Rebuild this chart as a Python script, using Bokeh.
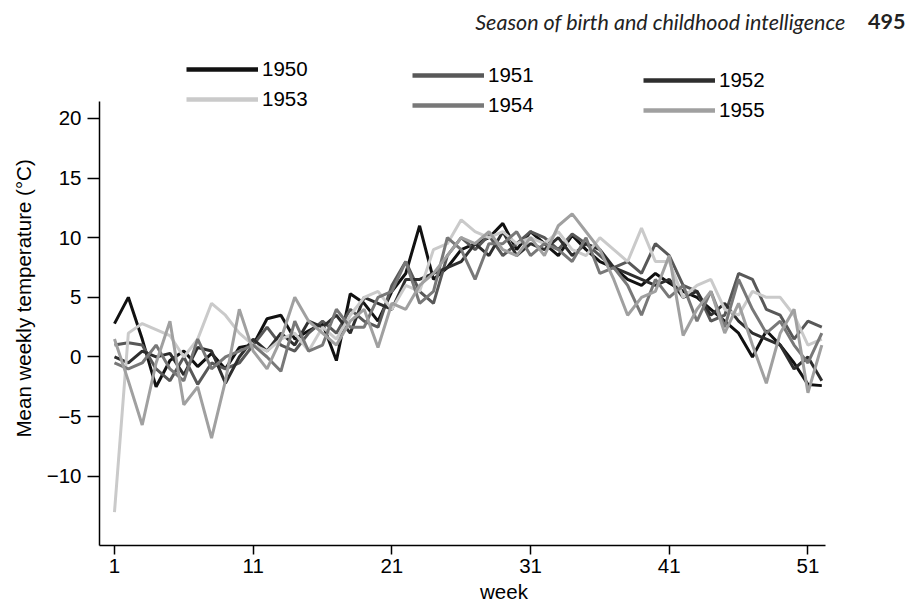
from bokeh.plotting import figure
from bokeh.models import Range1d, FixedTicker, Legend, LegendItem, Label, Title
from bokeh.embed import file_html
from bokeh.resources import INLINE

weeks = list(range(1, 53))
years = ["1950", "1951", "1952", "1953", "1954", "1955"]

t1950 = [2.8, 5.0, 1.5, -2.5, -0.3, 0.5, -0.8, 0.3, -1.0, 0.8, 1.0, 3.2, 3.5, 1.5, 2.2, 2.8, -0.3, 5.3, 4.5, 3.0,
         5.5, 7.0, 11.0, 6.5, 7.5, 9.0, 9.5, 10.0, 11.2, 9.0, 10.5, 9.5, 8.5, 10.2, 9.0, 8.0, 7.5, 6.5, 6.0, 7.0,
         6.2, 5.5, 5.0, 4.0, 3.0, 2.0, 0.0, 2.2, 1.0, -0.5, -2.3, -2.4]
t1951 = [1.0, 1.2, 1.0, -1.0, -2.0, 0.0, -2.3, -0.5, -1.0, -0.5, 1.0, 2.5, 1.0, 0.5, 2.0, 3.0, 2.0, 4.0, 3.0, 2.5,
         6.0, 8.0, 5.5, 4.5, 8.5, 10.0, 9.0, 10.2, 8.5, 9.5, 10.5, 10.0, 9.0, 10.3, 9.5, 8.5, 7.5, 8.0, 7.0, 9.5,
         8.5, 6.0, 5.5, 3.0, 3.5, 7.0, 6.5, 4.0, 3.5, 1.5, 3.0, 2.5]
t1952 = [0.0, -0.5, 0.5, 0.0, 0.3, -1.5, 0.8, 0.5, -2.2, 0.0, 1.5, 0.5, 2.0, 1.0, 3.0, 2.5, 3.5, 2.0, 5.0, 4.5,
         4.0, 6.5, 6.5, 7.0, 7.5, 8.0, 9.5, 8.5, 10.5, 8.5, 9.5, 9.0, 10.0, 8.5, 9.5, 9.0, 7.5, 7.0, 6.5, 6.0,
         6.5, 5.0, 5.5, 3.5, 4.5, 3.0, 2.0, 1.5, 1.0, -1.0, 0.0, -2.0]
t1953 = [-13.0, 2.0, 2.8, 2.3, 1.8, 0.0, 1.5, 4.5, 3.5, 2.0, 1.0, 0.5, 1.5, 2.0, 0.5, 2.5, 1.5, 3.5, 5.0, 5.5,
         4.0, 6.0, 5.5, 9.0, 9.5, 11.5, 10.5, 10.0, 10.5, 9.5, 10.0, 9.5, 10.5, 9.0, 8.5, 10.0, 9.0, 8.0, 10.8, 8.0,
         8.0, 5.0, 6.0, 6.5, 4.0, 3.5, 5.5, 5.0, 5.0, 3.5, 1.0, 1.5]
t1954 = [-0.5, -1.0, -0.5, 1.0, -1.0, -2.0, 1.5, -1.0, 0.0, 0.5, 1.0, 0.0, -1.2, 3.0, 0.5, 1.0, 4.0, 2.5, 2.5, 5.0,
         5.5, 8.0, 4.5, 5.5, 10.0, 9.0, 6.5, 9.5, 9.5, 10.5, 8.5, 9.5, 9.0, 8.0, 10.0, 7.0, 7.5, 6.0, 3.5, 6.5,
         5.0, 6.0, 3.0, 5.5, 2.5, 6.5, 4.0, 2.0, 3.0, 1.0, -0.5, 2.0]
t1955 = [1.5, -2.0, -5.7, -0.5, 3.0, -4.0, -2.5, -6.8, -2.0, 4.0, 0.5, -1.0, 1.5, 5.0, 3.0, 2.0, 1.0, 3.0, 4.0, 0.8,
         4.5, 4.0, 6.0, 7.0, 8.5, 10.0, 9.5, 10.5, 9.0, 8.5, 10.0, 8.5, 11.0, 12.0, 10.5, 9.0, 6.5, 3.5, 5.0, 5.5,
         8.5, 1.8, 4.0, 5.5, 2.0, 4.5, 1.0, -2.2, 2.0, 4.0, -3.0, 1.0]
series = [t1950, t1951, t1952, t1953, t1954, t1955]
colors = ["#111111", "#585858", "#2e2e2e", "#cacaca", "#787878", "#a0a0a0"]

x_ticks = [1, 11, 21, 31, 41, 51]
y_ticks = [-10, -5, 0, 5, 10, 15, 20]

FONT = "Liberation Sans"
FS = "20.5px"

# frame spans the whole area above the x axis and right of the y axis;
# axis lines are limited with 'bounds'
p = figure(frame_width=809, frame_height=545, output_backend="svg", toolbar_location=None,
           x_range=Range1d(-0.08, 58.25), y_range=Range1d(-15.8, 29.88),
           min_border_left=99, min_border_right=0, min_border_top=0, min_border_bottom=59,
           background_fill_color="white", border_fill_color="white")
p.outline_line_color = None
p.grid.visible = False

for ax, ticks in ((p.xaxis, x_ticks), (p.yaxis, y_ticks)):
    ax.ticker = FixedTicker(ticks=ticks)
    ax.minor_tick_line_color = None
    ax.major_tick_in = 0
    ax.axis_line_width = 1.5
    ax.major_tick_line_width = 1.5
    ax.axis_line_color = "black"
    ax.major_tick_line_color = "black"
    ax.major_label_text_font = FONT
    ax.major_label_text_font_size = FS
    ax.major_label_text_color = "black"
p.xaxis.major_tick_out = 9
p.yaxis.major_tick_out = 12
p.xaxis.bounds = (-0.08, 52.3)
p.yaxis.bounds = (-15.8, 21.42)
p.xaxis.major_label_standoff = 4
p.yaxis.major_label_standoff = 6
p.yaxis.major_label_overrides = {v: (str(v).replace("-", "\u2212")) for v in y_ticks}
p.xaxis.axis_label = "week"
p.xaxis.axis_label_standoff = 4
p.xaxis.axis_label_text_font = FONT
p.xaxis.axis_label_text_font_size = FS
p.xaxis.axis_label_text_font_style = "normal"
p.xaxis.axis_label_text_color = "black"

# y-axis title, placed as a side title so it can be shifted along the axis
ytitle = Title(text="Mean weekly temperature (\u00b0C)", align="left", offset=108, standoff=17,
               text_font=FONT, text_font_size=FS, text_font_style="normal", text_color="black")
p.add_layout(ytitle, "left")

for name, vals, c in zip(years, series, colors):
    p.line(weeks, vals, line_color=c, line_width=3)

# hidden thicker copies used only as legend swatches
swatch = {}
for name, vals, c in zip(years, series, colors):
    swatch[name] = p.line(weeks, vals, line_color=c, line_width=4.5, visible=False)

leg_pos = [(87, 434), (313, 428), (544, 423)]
pairs = [("1950", "1953"), ("1951", "1954"), ("1952", "1955")]
for (vx, vy), pair in zip(leg_pos, pairs):
    leg = Legend(items=[LegendItem(label=n, renderers=[swatch[n]]) for n in pair],
                 location=(vx, vy), glyph_width=72, glyph_height=20, label_height=20,
                 spacing=6, padding=0, margin=0, label_standoff=4,
                 label_text_font=FONT, label_text_font_size=FS, label_text_color="black",
                 border_line_color=None, background_fill_alpha=0,
                 inactive_fill_alpha=0, click_policy="none")
    p.add_layout(leg, "center")

p.add_layout(Label(x=746, y=524, x_units="screen", y_units="screen",
                   text="Season of birth and childhood intelligence", text_align="right",
                   text_baseline="alphabetic", text_font="Lato", text_font_style="italic",
                   text_font_size="21.5px", text_color="#222222"))
p.add_layout(Label(x=806, y=524, x_units="screen", y_units="screen",
                   text="495", text_align="right", text_baseline="alphabetic",
                   text_font="Lato", text_font_style="bold", text_font_size="21.5px", text_color="#222222"))

open("out.html", "w").write(file_html(p, INLINE))
